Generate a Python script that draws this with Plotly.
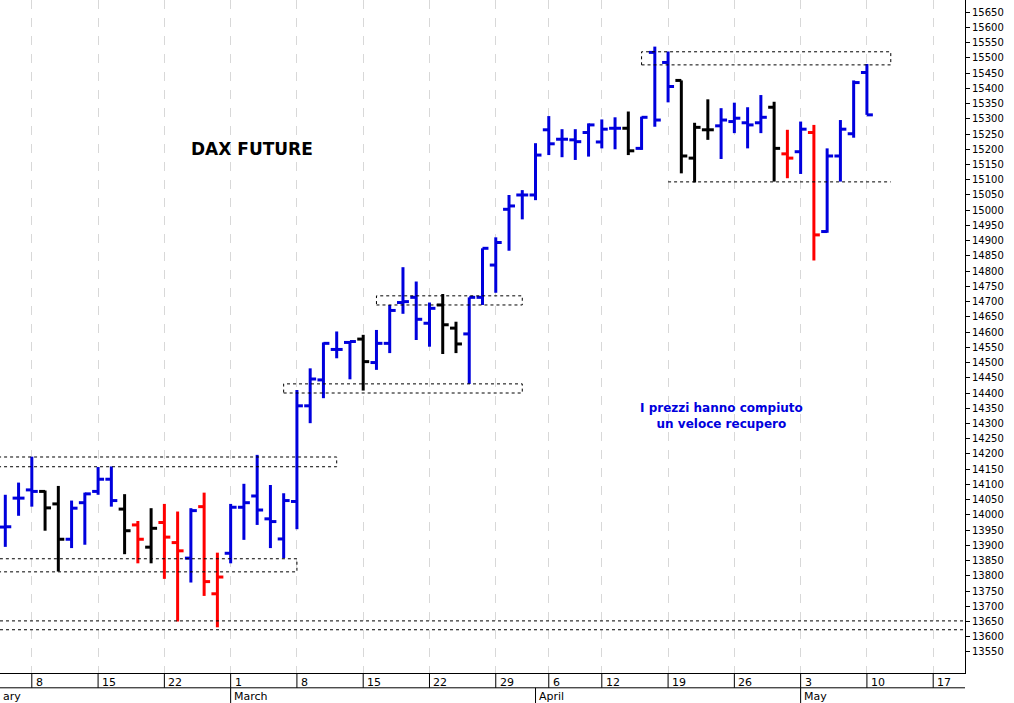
import pandas as pd
import plotly.graph_objects as go

# trading days from Feb 4 2021 (Good Friday / Easter Monday closed)
dates = [d for d in pd.bdate_range("2021-02-04", "2021-05-10")
         if d.strftime("%m-%d") not in ("04-02", "04-05")]

opens = [13960, 14055, 14082, 14077, 14036, 13920, 14040, 14077, 14117, 14019, 13967, 13894,
         13975, 13909, 13858, 14027, 13741, 13874, 14025, 14062, 13987, 13921, 14044, 14358,
         14443, 14543, 14566, 14577, 14500, 14563, 14697, 14714, 14629, 14689, 14613, 14594,
         14714, 14820, 15003, 15050, 15050, 15264, 15233, 15231, 15255, 15224, 15269, 15269,
         15203, 15518, 15485, 15426, 15171, 15264, 15277, 15291, 15287, 15287, 15338, 15185,
         15192, 15255, 14930, 15178, 15251, 15452]
highs = [14066, 14106, 14191, 14080, 14095, 14047, 14073, 14157, 14159, 14068, 13980, 14022,
         14036, 14011, 14022, 14073, 13876, 14036, 14102, 14197, 14098, 14071, 14410, 14481,
         14566, 14602, 14569, 14591, 14607, 14689, 14813, 14766, 14697, 14725, 14634, 14714,
         14875, 14911, 15050, 15066, 15220, 15309, 15266, 15266, 15285, 15298, 15305, 15324,
         15307, 15537, 15521, 15426, 15287, 15364, 15335, 15353, 15338, 15378, 15356, 15264,
         15291, 15280, 15203, 15296, 15426, 15480]
lows = [13895, 13997, 14027, 13948, 13814, 13891, 13902, 14066, 14027, 13871, 13841, 13841,
        13790, 13650, 13778, 13734, 13631, 13841, 13918, 13967, 13891, 13858, 13953, 14301,
        14383, 14514, 14445, 14408, 14476, 14531, 14660, 14574, 14552, 14528, 14531, 14430,
        14689, 14729, 14867, 14970, 15033, 15181, 15174, 15165, 15176, 15203, 15200, 15181,
        15198, 15274, 15354, 15121, 15091, 15231, 15168, 15253, 15203, 15253, 15094, 15105,
        15119, 14835, 14926, 15094, 15238, 15313]
closes = [13961, 14055, 14077, 14023, 13920, 14022, 14069, 14117, 14047, 13948, 13920, 13956,
          13927, 13882, 14014, 13781, 13796, 14025, 14040, 14016, 13978, 14047, 14358, 14446,
          14563, 14543, 14569, 14503, 14563, 14671, 14700, 14642, 14678, 14624, 14561, 14714,
          14875, 14894, 15014, 15050, 15181, 15218, 15233, 15225, 15280, 15266, 15269, 15195,
          15305, 15296, 15406, 15178, 15272, 15264, 15296, 15302, 15280, 15305, 15203, 15171,
          15266, 14919, 15178, 15266, 15419, 15313]
# bar colour: b = blue, k = black, r = red
colors = list("bbb" "kk" "bbbb" "k" "r" "k" "rr" "b" "rr" "bbbbbbbbbb" "k" "bbbbb" "kk"
              "bbbbbbbbbbbb" "k" "bbb" "kkk" "bbbb" "k" "r" "b" "r" "bbbb")

COL = {"b": "#0000dd", "k": "#000000", "r": "#ff0000"}

price_ticks = list(range(13550, 15651, 50))

# weekly ticks on the trading-day axis
tick_days = ["2021-02-08", "2021-02-15", "2021-02-22", "2021-03-01", "2021-03-08", "2021-03-15",
             "2021-03-22", "2021-03-29", "2021-04-06", "2021-04-12", "2021-04-19", "2021-04-26",
             "2021-05-03", "2021-05-10", "2021-05-17"]
tick_text = ["8", "15", "22", "1", "8", "15", "22", "29", "6", "12", "19", "26", "3", "10", "17"]
months = ["ary", "March", "April", "May"]
month_days = [None, "2021-03-01", "2021-04-01", "2021-05-03"]

idx = {d.strftime("%Y-%m-%d"): i for i, d in enumerate(dates)}
offset = 2  # Feb 8 sits at x = 0


def xpos(day):
    if day in idx:
        return idx[day] - offset
    return idx["2021-05-10"] - offset + 5  # May 17, after the data


fig = go.Figure()
for c in "bkr":
    xs, ys = [], []
    for i in range(len(dates)):
        if colors[i] != c:
            continue
        x = i - offset
        xs += [x, x, None, x - 0.45, x, None, x, x + 0.45, None]
        ys += [lows[i], highs[i], None, opens[i], opens[i], None, closes[i], closes[i], None]
    fig.add_trace(go.Scatter(x=xs, y=ys, mode="lines", line=dict(color=COL[c], width=3),
                             hoverinfo="skip", showlegend=False))

# dashed support / resistance boxes
boxes = [(-3, 23, 14158, 14190), (-3, 20, 13813, 13856), (19, 37, 14400, 14430),
         (26, 37, 14689, 14719), (46, 64.8, 15477, 15520)]
for x0, x1, y0, y1 in boxes:
    fig.add_shape(type="rect", x0=x0, x1=x1, y0=y0, y1=y1,
                  line=dict(color="black", width=1, dash="dot"))
fig.add_shape(type="line", x0=48, x1=64.8, y0=15093, y1=15093,
              line=dict(color="black", width=1, dash="dot"))
for y in (13623, 13652):
    fig.add_shape(type="line", x0=0, x1=1, xref="paper", y0=y, y1=y,
                  line=dict(color="black", width=1, dash="dot"))

fig.add_annotation(x=16.6, y=15200, text="<b>DAX FUTURE</b>", showarrow=False,
                   font=dict(size=17, color="black", family="DejaVu Sans"))
fig.add_annotation(x=52.0, y=14325, text="<b>I prezzi hanno compiuto<br>un veloce recupero</b>",
                   showarrow=False, font=dict(size=12, color="#0000dd", family="DejaVu Sans"))

# bottom date axis: day row and month row
for d, t in zip(tick_days, tick_text):
    x = xpos(d)
    fig.add_shape(type="line", x0=x, x1=x, y0=0, y1=-0.022, yref="paper",
                  line=dict(color="black", width=1))
    fig.add_annotation(x=x, y=-0.002, yref="paper", text=t, showarrow=False,
                       xanchor="left", yanchor="top", xshift=2,
                       font=dict(size=11, color="black", family="DejaVu Sans"))
for m, d in zip(months, month_days):
    x = -2.4 if d is None else xpos(d)
    if d is not None:
        fig.add_shape(type="line", x0=x, x1=x, y0=-0.022, y1=-0.045, yref="paper",
                      line=dict(color="black", width=1))
    fig.add_annotation(x=x, y=-0.022, yref="paper", text=m, showarrow=False,
                       xanchor="left", yanchor="top", xshift=1,
                       font=dict(size=11, color="black", family="DejaVu Sans"))
fig.add_shape(type="line", x0=0, x1=1, xref="paper", y0=-0.022, y1=-0.022, yref="paper",
              line=dict(color="black", width=1))

fig.update_layout(
    width=1014, height=703, margin=dict(l=0, r=49, t=0, b=30),
    paper_bgcolor="white", plot_bgcolor="white",
    xaxis=dict(range=[-2.4, 70.4], tickvals=[xpos(d) for d in tick_days], showticklabels=False,
               showgrid=True, gridcolor="#d8d8d8", griddash="dash", gridwidth=1,
               zeroline=False, showline=True, linecolor="black", ticks=""),
    yaxis=dict(range=[13481, 15690], side="right", tickvals=price_ticks, tickformat="d",
               showgrid=False, zeroline=False, showline=True, linecolor="black",
               ticks="outside", ticklen=4, tickcolor="black",
               tickfont=dict(size=10, color="black", family="DejaVu Sans")),
)

fig.write_html("out.html", config={"displayModeBar": False},
               post_script="document.body.style.margin='0';")
